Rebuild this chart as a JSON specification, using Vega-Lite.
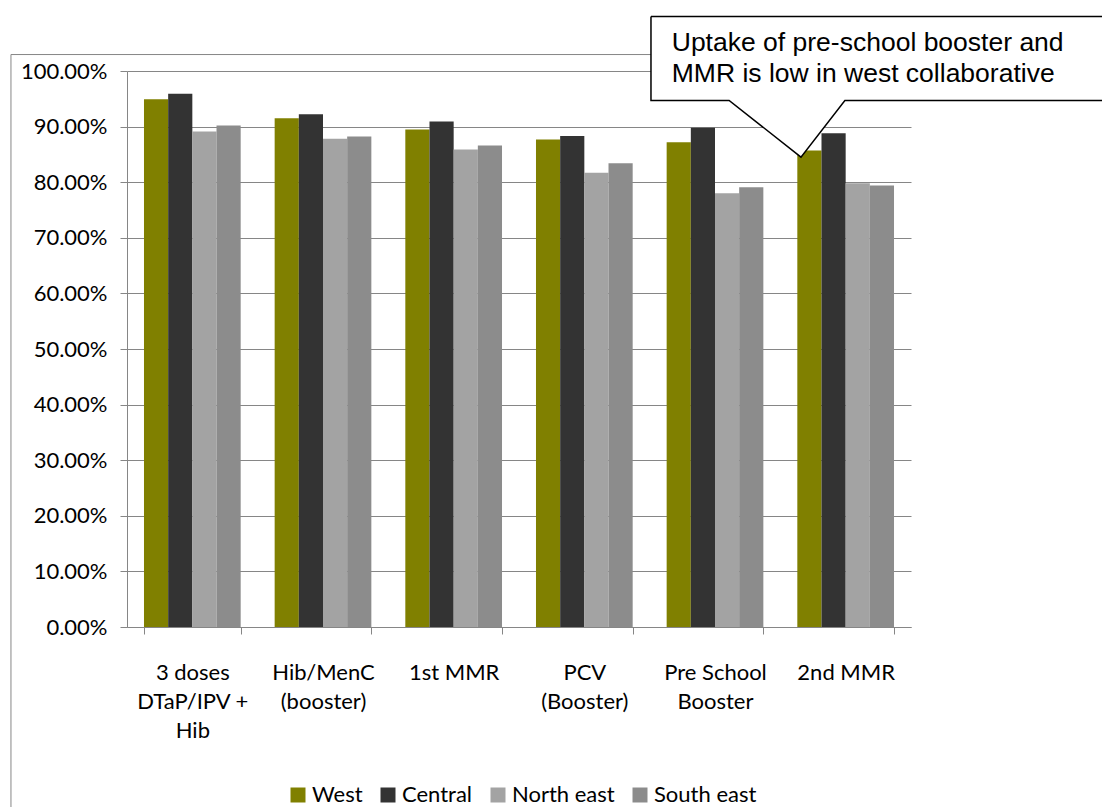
{
  "$schema": "https://vega.github.io/schema/vega-lite/v6.json",
  "width": 784,
  "height": 556,
  "autosize": {"type": "none"},
  "padding": {"left": 127, "top": 71, "right": 191, "bottom": 180},
  "background": "white",
  "config": {
    "view": {"stroke": null},
    "font": "Lato",
    "axis": {"labelFont": "Lato", "labelColor": "black", "domainColor": "#868686", "tickColor": "#868686", "gridColor": "#868686", "tickSize": 7, "title": null}
  },
  "datasets": {
    "bars": [
      {"cat": "3 doses DTaP/IPV + Hib", "region": "West", "value": 0.949},
      {"cat": "3 doses DTaP/IPV + Hib", "region": "Central", "value": 0.959},
      {"cat": "3 doses DTaP/IPV + Hib", "region": "North east", "value": 0.891},
      {"cat": "3 doses DTaP/IPV + Hib", "region": "South east", "value": 0.902},
      {"cat": "Hib/MenC (booster)", "region": "West", "value": 0.915},
      {"cat": "Hib/MenC (booster)", "region": "Central", "value": 0.922},
      {"cat": "Hib/MenC (booster)", "region": "North east", "value": 0.878},
      {"cat": "Hib/MenC (booster)", "region": "South east", "value": 0.882},
      {"cat": "1st MMR", "region": "West", "value": 0.895},
      {"cat": "1st MMR", "region": "Central", "value": 0.909},
      {"cat": "1st MMR", "region": "North east", "value": 0.859},
      {"cat": "1st MMR", "region": "South east", "value": 0.866},
      {"cat": "PCV (Booster)", "region": "West", "value": 0.877},
      {"cat": "PCV (Booster)", "region": "Central", "value": 0.883},
      {"cat": "PCV (Booster)", "region": "North east", "value": 0.817},
      {"cat": "PCV (Booster)", "region": "South east", "value": 0.834},
      {"cat": "Pre School Booster", "region": "West", "value": 0.872},
      {"cat": "Pre School Booster", "region": "Central", "value": 0.898},
      {"cat": "Pre School Booster", "region": "North east", "value": 0.780},
      {"cat": "Pre School Booster", "region": "South east", "value": 0.791},
      {"cat": "2nd MMR", "region": "West", "value": 0.857},
      {"cat": "2nd MMR", "region": "Central", "value": 0.888},
      {"cat": "2nd MMR", "region": "North east", "value": 0.798},
      {"cat": "2nd MMR", "region": "South east", "value": 0.794}
    ],
    "frame": [{"x1": -0.888, "x2": 7.6, "y1": 1.0296, "y2": -0.365}],
    "callout": [
      {"i": 0, "x": 4.010, "y": 1.0979},
      {"i": 1, "x": 7.6, "y": 1.0979},
      {"i": 2, "x": 7.6, "y": 0.9470},
      {"i": 3, "x": 5.494, "y": 0.9470},
      {"i": 4, "x": 5.158, "y": 0.8451},
      {"i": 5, "x": 4.608, "y": 0.9470},
      {"i": 6, "x": 4.010, "y": 0.9470},
      {"i": 7, "x": 4.010, "y": 1.0979}
    ],
    "note": [
      {"x": 4.169, "y": 1.0368, "text": "Uptake of pre-school booster and"},
      {"x": 4.169, "y": 0.9799, "text": "MMR is low in west collaborative"}
    ]
  },
  "layer": [
    {
      "data": {"name": "bars"},
      "mark": {"type": "bar"},
      "encoding": {
        "x": {
          "field": "cat", "type": "nominal", "sort": null,
          "scale": {"paddingInner": 0.26, "paddingOuter": 0.13},
          "axis": {
            "labelAngle": 0, "labelFontSize": 22, "labelPadding": 28, "labelLineHeight": 29,
            "labelBaseline": "top", "tickBand": "extent", "grid": false,
            "labelExpr": "datum.value == '3 doses DTaP/IPV + Hib' ? ['3 doses','DTaP/IPV +','Hib'] : datum.value == 'Hib/MenC (booster)' ? ['Hib/MenC','(booster)'] : datum.value == 'PCV (Booster)' ? ['PCV','(Booster)'] : datum.value == 'Pre School Booster' ? ['Pre School','Booster'] : datum.label"
          }
        },
        "xOffset": {"field": "region", "type": "nominal", "sort": ["West", "Central", "North east", "South east"]},
        "y": {
          "field": "value", "type": "quantitative",
          "scale": {"domain": [0, 1], "nice": false},
          "axis": {"format": ".2%", "values": [0, 0.1, 0.2, 0.3, 0.4, 0.5, 0.6, 0.7, 0.8, 0.9, 1.0], "labelFontSize": 22, "labelPadding": 13, "grid": true}
        },
        "color": {
          "field": "region", "type": "nominal",
          "scale": {"domain": ["West", "Central", "North east", "South east"], "range": ["#808000", "#333333", "#a3a3a3", "#8c8c8c"]},
          "legend": {
            "title": null, "orient": "none", "legendX": 160, "legendY": 713, "direction": "horizontal", "columns": 4,
            "symbolType": "square", "symbolSize": 225, "symbolStrokeWidth": 0, "labelFont": "Lato", "labelFontSize": 22,
            "labelColor": "black", "columnPadding": 14, "labelOffset": 3, "padding": 0
          }
        }
      }
    },
    {
      "data": {"name": "frame"},
      "mark": {"type": "rect", "filled": false, "stroke": "#868686", "strokeWidth": 1},
      "encoding": {
        "x": {"field": "x1", "type": "quantitative", "scale": {"domain": [0, 6], "nice": false, "zero": false}, "axis": null},
        "x2": {"field": "x2"},
        "y": {"field": "y1", "type": "quantitative", "scale": {"domain": [0, 1], "nice": false}, "axis": null},
        "y2": {"field": "y2"}
      }
    },
    {
      "data": {"name": "callout"},
      "mark": {"type": "line", "fill": "white", "stroke": "black", "strokeWidth": 1.5, "strokeJoin": "miter"},
      "encoding": {
        "x": {"field": "x", "type": "quantitative", "scale": {"domain": [0, 6], "nice": false, "zero": false}, "axis": null},
        "y": {"field": "y", "type": "quantitative", "scale": {"domain": [0, 1], "nice": false}, "axis": null},
        "order": {"field": "i", "type": "quantitative"}
      }
    },
    {
      "data": {"name": "note"},
      "mark": {"type": "text", "align": "left", "baseline": "alphabetic", "font": "Liberation Sans", "fontSize": 26.5, "color": "black"},
      "encoding": {
        "x": {"field": "x", "type": "quantitative", "scale": {"domain": [0, 6], "nice": false, "zero": false}, "axis": null},
        "y": {"field": "y", "type": "quantitative", "scale": {"domain": [0, 1], "nice": false}, "axis": null},
        "text": {"field": "text", "type": "nominal"}
      }
    }
  ],
  "resolve": {"scale": {"x": "independent", "y": "independent"}}
}
